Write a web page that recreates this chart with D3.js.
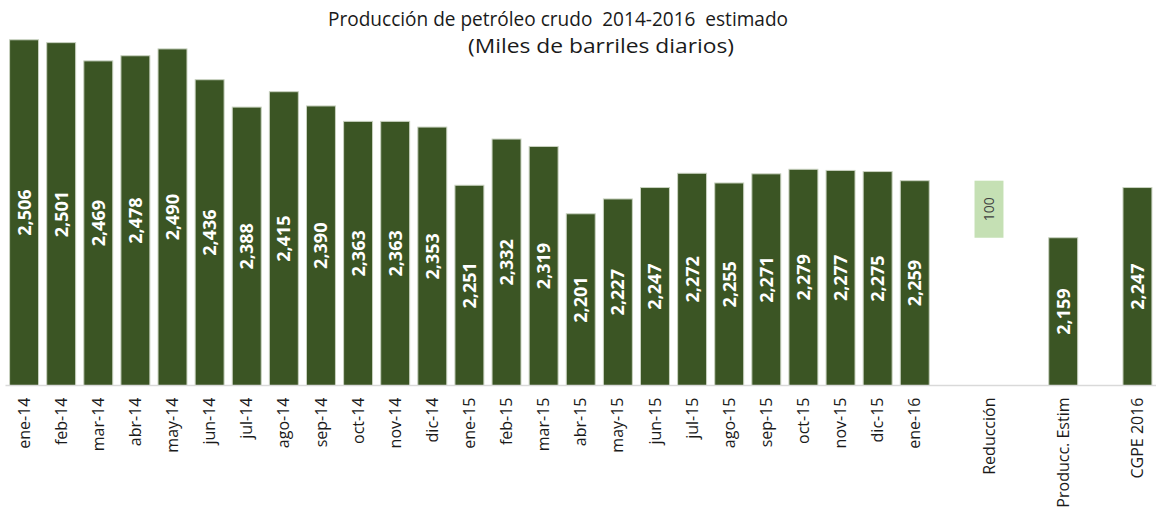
<!DOCTYPE html>
<html>
<head>
<meta charset="utf-8">
<script src="https://cdn.jsdelivr.net/npm/d3@7"></script>
<style>
  html, body { margin: 0; padding: 0; background: #fff; }
  svg { display: block; font-family: "Open Sans", "Liberation Sans", sans-serif; }
  .title { white-space: pre; }
</style>
</head>
<body>
<div id="chart"></div>
<script>
// --- data -------------------------------------------------------------
var months = ["ene-14", "feb-14", "mar-14", "abr-14", "may-14", "jun-14", "jul-14", "ago-14",
  "sep-14", "oct-14", "nov-14", "dic-14", "ene-15", "feb-15", "mar-15", "abr-15", "may-15",
  "jun-15", "jul-15", "ago-15", "sep-15", "oct-15", "nov-15", "dic-15", "ene-16"];
var production = [2506, 2501, 2469, 2478, 2490, 2436, 2388, 2415, 2390, 2363, 2363, 2353,
  2251, 2332, 2319, 2201, 2227, 2247, 2272, 2255, 2271, 2279, 2277, 2275, 2259];
// trailing categories (blank slots are spacers on the axis)
var extraCats = ["", "Reducción", "", "Producc. Estim", "", "CGPE 2016"];
var reduction = 100;          // floating bar: from estimate up to ene-16
var estimate = 2159;
var cgpe = 2247;
var yMin = 1900, yMax = 2600;

var W = 1156, H = 510;
var baseY = 385.5;

var cats = months.concat(extraCats);
var rows = months.map(function (m, i) { return { i: i, label: m, lo: yMin, hi: production[i], kind: "main" }; });
rows.push({ i: months.length + 1, label: "Reducción", lo: estimate, hi: estimate + reduction, val: reduction, kind: "red" });
rows.push({ i: months.length + 3, label: "Producc. Estim", lo: yMin, hi: estimate, kind: "main" });
rows.push({ i: months.length + 5, label: "CGPE 2016", lo: yMin, hi: cgpe, kind: "main" });
rows.forEach(function (r) { if (r.val == null) r.val = r.hi; });

var svg = d3.select("#chart").append("svg").attr("width", W).attr("height", H);

var x = d3.scaleBand().domain(d3.range(cats.length)).range([5.5, 1156]).paddingInner(0.22).paddingOuter(0.11);
var y = d3.scaleLinear().domain([yMin, yMax]).range([baseY, baseY - (yMax - yMin) * 0.5705]);

var fmt = d3.format(",");

// --- title ------------------------------------------------------------
svg.append("text").attr("class", "title").attr("x", 558).attr("y", 26).attr("text-anchor", "middle")
  .style("font-size", "19.5px").attr("fill", "#1a1a1a")
  .attr("textLength", 460).attr("lengthAdjust", "spacingAndGlyphs")
  .text("Producción de petróleo crudo  2014-2016  estimado");
svg.append("text").attr("class", "title").attr("x", 601).attr("y", 53).attr("text-anchor", "middle")
  .style("font-size", "19.5px").attr("fill", "#1a1a1a")
  .attr("textLength", 266).attr("lengthAdjust", "spacingAndGlyphs")
  .text("(Miles de barriles diarios)");

// --- bars -------------------------------------------------------------
var bars = svg.selectAll(".bar").data(rows).enter().append("g").attr("class", "bar");
bars.append("rect")
  .attr("x", function (d) { return x(d.i); })
  .attr("width", x.bandwidth())
  .attr("y", function (d) { return y(d.hi); })
  .attr("height", function (d) { return y(d.lo) - y(d.hi); })
  .attr("fill", function (d) { return d.kind === "red" ? "#c5e0b4" : "#3b5524"; })
  .attr("stroke", function (d) { return d.kind === "red" ? "none" : "#c9d2c0"; })
  .attr("stroke-width", 1);

bars.append("text")
  .attr("transform", function (d) {
    var cx = x(d.i) + x.bandwidth() / 2, cy = (y(d.hi) + y(d.lo)) / 2;
    return "translate(" + cx + "," + cy + ") rotate(-90)";
  })
  .attr("text-anchor", "middle").attr("dy", "0.36em")
  .style("font-size", function (d) { return d.kind === "red" ? "14px" : "18px"; })
  .style("font-weight", function (d) { return d.kind === "red" ? "normal" : "bold"; })
  .attr("fill", function (d) { return d.kind === "red" ? "#404040" : "#ffffff"; })
  .text(function (d) { return fmt(d.val); });

// --- x axis -----------------------------------------------------------
svg.append("line").attr("x1", 5.5).attr("x2", 1156).attr("y1", baseY).attr("y2", baseY)
  .attr("stroke", "#d9d9d9").attr("stroke-width", 1.5);

svg.selectAll(".xlab").data(cats.map(function (c, i) { return { c: c, i: i }; }).filter(function (d) { return d.c; }))
  .enter().append("text").attr("class", "xlab")
  .attr("transform", function (d) { return "translate(" + (x(d.i) + x.bandwidth() / 2) + "," + (baseY + 12) + ") rotate(-90)"; })
  .attr("text-anchor", "end").attr("dy", "0.35em")
  .style("font-size", "16px").attr("fill", "#1a1a1a")
  .text(function (d) { return d.c; });
</script>
</body>
</html>
